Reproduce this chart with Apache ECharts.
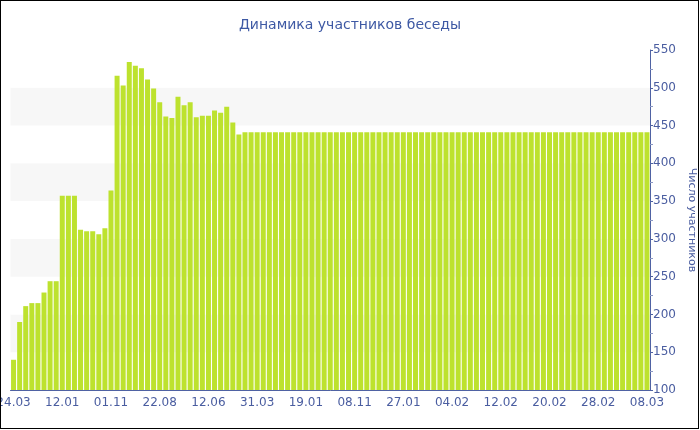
<!DOCTYPE html>
<html>
<head>
<meta charset="utf-8">
<script src="https://cdn.jsdelivr.net/npm/echarts@6/dist/echarts.min.js"></script>
<style>
  html, body { margin: 0; padding: 0; background: #fff; }
  #wrap { position: relative; width: 700px; height: 430px; }
  #chart { width: 700px; height: 430px; }
  #frame {
    position: absolute; left: 0; top: 0; width: 699px; height: 429px;
    box-sizing: border-box; border: 1px solid #000; pointer-events: none;
  }
</style>
</head>
<body>
<div id="wrap">
  <div id="chart"></div>
  <div id="frame"></div>
</div>
<script>
// число участников по дням (105 столбцов)
const members = [
  140, 190, 211, 215, 215, 229, 244, 244,
  357, 357, 357, 312, 310, 310, 306, 314,
  364, 516, 503, 534, 529, 526, 511, 499,
  481, 462, 460, 488, 477, 481, 461, 463,
  463, 470, 467, 475, 454, 438, 441, 441,
  441, 441, 441, 441, 441, 441, 441, 441,
  441, 441, 441, 441, 441, 441, 441, 441,
  441, 441, 441, 441, 441, 441, 441, 441,
  441, 441, 441, 441, 441, 441, 441, 441,
  441, 441, 441, 441, 441, 441, 441, 441,
  441, 441, 441, 441, 441, 441, 441, 441,
  441, 441, 441, 441, 441, 441, 441, 441,
  441, 441, 441, 441, 441, 441, 441, 441,
  441
]
// подписи оси X, каждый 8-й столбец
const tickLabels = ['24.03', '12.01', '01.11', '22.08', '12.06', '31.03', '19.01',
  '08.11', '27.01', '04.02', '12.02', '20.02', '28.02', '08.03']
const labelStep = 8
const categories = members.map((_, i) => String(i))

const textColor = '#4a5da0'
const axisColor = '#4f62a3'

const chart = echarts.init(document.getElementById('chart'))
chart.setOption({
  animation: false,
  title: {
    text: 'Динамика участников беседы',
    left: 'center',
    top: 13,
    textStyle: { fontFamily: 'DejaVu Sans', fontSize: 14, fontWeight: 'normal', color: '#3e59a4' }
  },
  grid: { left: 10.5, right: 50, top: 50, bottom: 40, containLabel: false, outerBoundsMode: 'none' },
  xAxis: {
    type: 'category',
    data: categories,
    axisLine: { lineStyle: { color: axisColor } },
    axisTick: { alignWithLabel: true, interval: labelStep - 1, length: 4, lineStyle: { color: axisColor } },
    axisLabel: {
      interval: labelStep - 1,
      margin: 7,
      color: textColor,
      fontFamily: 'DejaVu Sans',
      fontSize: 12,
      formatter: (v, idx) => tickLabels[idx / labelStep] || ''
    },
    splitLine: { show: false }
  },
  yAxis: {
    type: 'value',
    position: 'right',
    min: 100,
    max: 550,
    interval: 50,
    name: 'Число участников',
    nameLocation: 'middle',
    nameRotate: -90,
    nameGap: 30,
    nameTextStyle: { color: textColor, fontFamily: 'DejaVu Sans', fontSize: 11 },
    axisLine: { show: true, lineStyle: { color: axisColor } },
    axisTick: { show: true, length: 3, lineStyle: { color: axisColor } },
    minorTick: { show: true, splitNumber: 2, length: 3, lineStyle: { color: '#8c98c4' } },
    axisLabel: { margin: 3, color: textColor, fontFamily: 'DejaVu Sans', fontSize: 12 },
    splitLine: { show: false },
    splitArea: { show: true, areaStyle: { color: ['#ffffff', '#f7f7f7'] } }
  },
  series: [{
    type: 'bar',
    data: members,
    barCategoryGap: '18%',
    itemStyle: { color: '#bde22e' }
  }]
})
</script>
</body>
</html>
